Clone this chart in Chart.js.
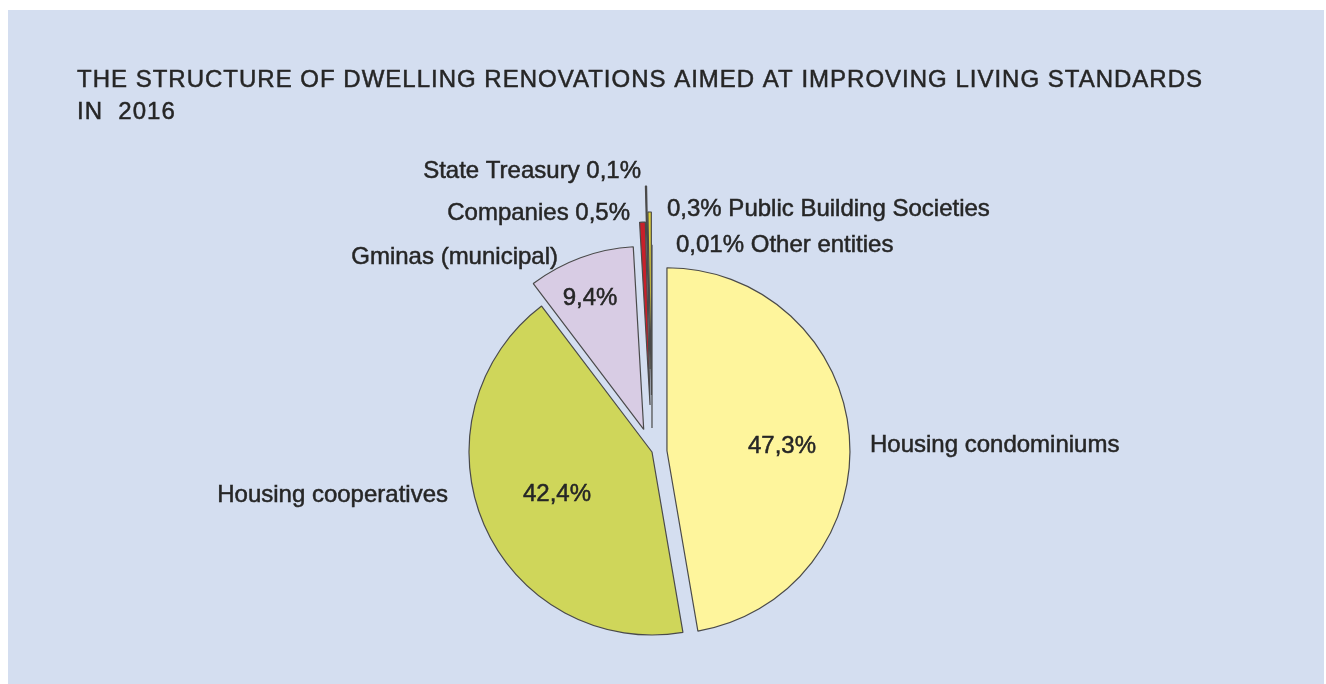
<!DOCTYPE html>
<html>
<head>
<meta charset="utf-8">
<script src="https://cdn.jsdelivr.net/npm/chart.js@4"></script>
<style>
  html, body { margin: 0; padding: 0; background: #ffffff; }
  #wrap { position: absolute; left: 0; top: 0; width: 1326px; height: 684px; }
  #panel { position: absolute; left: 8px; top: 10px; width: 1316px; height: 674px; background: #d4def0; }
  canvas { position: absolute; left: 0; top: 0; }
</style>
</head>
<body>
<div id="wrap">
  <div id="panel"></div>
  <canvas id="pieChart" width="1326" height="684"></canvas>
</div>
<script>
// data (per cent)
const categories = ['Housing condominiums', 'Housing cooperatives', 'Gminas (municipal)', 'Companies', 'State Treasury', 'Public Building Societies', 'Other entities'];
const shares = [47.3, 42.4, 9.4, 0.5, 0.1, 0.3, 0.01];
const shareLabels = ['47,3%', '42,4%', '9,4%', '0,5%', '0,1%', '0,3%', '0,01%'];
const sliceColors = ['#fef59c', '#cfd65a', '#d8cce4', '#c8202a', '#3a3f4a', '#e0d23c', '#d4def0'];
// how far each slice is pulled out of the pie, px
const sliceExplode = [15, 0, 24, 47, 83, 57, 24];

const titleLines = ['THE STRUCTURE OF DWELLING RENOVATIONS AIMED AT IMPROVING LIVING STANDARDS', 'IN  2016'];

const FONT = '"Liberation Sans", Arial, sans-serif';

// draws each arc shifted along its own mid angle instead of Chart.js offset
// (built-in offset also grows the radius of the slice)
const explodePlugin = {
  id: 'explode',
  beforeDatasetDraw(chart, args) {
    const ctx = chart.ctx;
    args.meta.data.forEach((arc, i) => {
      const mid = (arc.startAngle + arc.endAngle) / 2;
      ctx.save();
      ctx.translate(Math.cos(mid) * sliceExplode[i], Math.sin(mid) * sliceExplode[i]);
      arc.draw(ctx);
      ctx.restore();
    });
    return false;
  }
};

function text(ctx, str, x, y) {
  ctx.fillText(str, x, y);
  ctx.strokeText(str, x, y);
}

// title and the texts around the pie
const labelPlugin = {
  id: 'pieLabels',
  afterDraw(chart) {
    const ctx = chart.ctx;
    ctx.save();
    ctx.fillStyle = '#262626';
    ctx.strokeStyle = '#262626';
    ctx.lineWidth = 0.5;
    ctx.textBaseline = 'alphabetic';

    ctx.font = '24px ' + FONT;
    ctx.textAlign = 'left';
    ctx.letterSpacing = '1px';
    text(ctx, titleLines[0], 77, 87);
    text(ctx, titleLines[1], 77, 119);
    ctx.letterSpacing = '0px';

    // outside labels
    ctx.textAlign = 'left';
    text(ctx, categories[0], 870, 452);
    text(ctx, shareLabels[5] + ' ' + categories[5], 667, 216);
    text(ctx, shareLabels[6] + ' ' + categories[6], 676, 252);
    ctx.textAlign = 'right';
    text(ctx, categories[1], 448, 502);
    text(ctx, categories[2], 558, 264);
    text(ctx, categories[3] + ' ' + shareLabels[3], 630, 220);
    text(ctx, categories[4] + ' ' + shareLabels[4], 641, 178);

    // inside labels
    ctx.textAlign = 'center';
    text(ctx, shareLabels[0], 782, 453);
    text(ctx, shareLabels[1], 557, 501);
    text(ctx, shareLabels[2], 590, 305);
    ctx.restore();
  }
};

const ctx = document.getElementById('pieChart').getContext('2d');
new Chart(ctx, {
  type: 'pie',
  data: {
    labels: categories,
    datasets: [{
      data: shares,
      backgroundColor: sliceColors,
      borderColor: '#4a4a4a',
      borderWidth: 1.2
    }]
  },
  options: {
    responsive: false,
    animation: false,
    radius: 183,
    layout: { padding: { left: 0, right: 22, top: 220, bottom: 0 } },
    plugins: {
      legend: { display: false },
      tooltip: { enabled: false }
    }
  },
  plugins: [explodePlugin, labelPlugin]
});
</script>
</body>
</html>
